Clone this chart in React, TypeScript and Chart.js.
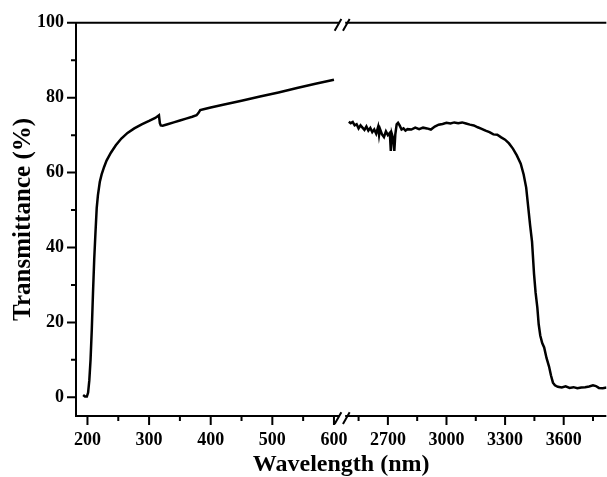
import { useEffect, useRef } from "react";
import { Chart, registerables } from "chart.js";

Chart.register(...registerables);

// UV-VIS segment (nm, %)
const uvWavelength = [193, 196, 199, 201, 203, 205, 207, 209, 211, 213, 215, 217, 220, 223, 227, 231, 238, 246, 255, 265, 276, 288, 300, 310, 316, 317.5, 319, 322, 330, 340, 350, 360, 370, 377, 380, 383, 390, 400, 420, 450, 480, 510, 540, 570, 600];
const uvTransmittance = [0.6, 0.2, 0.2, 1.2, 4.5, 10, 18, 28, 37, 44, 50.5, 54, 57.5, 59.5, 61.5, 63.2, 65.3, 67.3, 69.1, 70.6, 71.8, 72.9, 73.8, 74.6, 75.3, 73.2, 72.6, 72.5, 72.9, 73.4, 73.9, 74.4, 74.9, 75.3, 75.9, 76.7, 77.0, 77.4, 78.1, 79.2, 80.3, 81.4, 82.6, 83.7, 84.8];

// IR segment (nm, %)
const irWavelength = [2500, 2510, 2520, 2530, 2540, 2550, 2560, 2570, 2580, 2590, 2600, 2610, 2620, 2630, 2640, 2650, 2655, 2660, 2670, 2680, 2690, 2700, 2710, 2715, 2720, 2728, 2733, 2738, 2745, 2752, 2760, 2770, 2780, 2790, 2800, 2820, 2840, 2860, 2880, 2900, 2920, 2940, 2960, 2980, 3000, 3020, 3040, 3060, 3080, 3100, 3120, 3140, 3160, 3180, 3200, 3220, 3240, 3260, 3280, 3300, 3320, 3340, 3360, 3380, 3395, 3408, 3418, 3428, 3438, 3448, 3456, 3465, 3472, 3480, 3490, 3500, 3512, 3525, 3535, 3545, 3555, 3570, 3590, 3610, 3630, 3650, 3670, 3690, 3710, 3730, 3750, 3765, 3780, 3800, 3820];
const irTransmittance = [73.6, 73.2, 73.5, 72.6, 72.9, 71.8, 72.6, 72.0, 71.4, 72.3, 71.2, 71.9, 70.8, 71.5, 70.4, 72.2, 70.0, 71.6, 70.2, 69.5, 71.0, 70.0, 70.6, 65.8, 70.4, 69.0, 65.8, 70.2, 72.9, 73.3, 72.6, 71.5, 71.8, 71.2, 71.6, 71.5, 72.0, 71.6, 72.0, 71.8, 71.5, 72.3, 72.8, 73.0, 73.3, 73.1, 73.4, 73.2, 73.4, 73.1, 72.8, 72.6, 72.1, 71.7, 71.2, 70.8, 70.2, 70.1, 69.4, 68.8, 67.8, 66.4, 64.6, 62.4, 59.5, 56.0, 51.0, 46.0, 41.5, 33.0, 28.0, 24.0, 19.5, 16.5, 14.5, 13.3, 10.5, 8.2, 5.8, 3.9, 3.2, 2.8, 2.6, 2.9, 2.5, 2.7, 2.4, 2.6, 2.7, 2.9, 3.2, 3.0, 2.5, 2.4, 2.6];

const xMajorTicks = [200, 300, 400, 500, 600, 2700, 3000, 3300, 3600];
const xMinorTicks = [250, 350, 450, 550, 2550, 2850, 3150, 3450, 3750];
const yMajorTicks = [0, 20, 40, 60, 80, 100];
const yMinorTicks = [10, 30, 50, 70, 90];

// broken axis mapping (wavelength -> axis units)
const LEFT_END = 1000;
const RIGHT_ORIGIN_AXIS = 687.5;
const RIGHT_ORIGIN_NM = 2700;
const RIGHT_RATIO = 0.317;
const BREAK_AXIS = 613.3;
const X_MIN = 181.4;
const X_MAX = 1042;

function toAxis(w: number): number {
  return w <= LEFT_END ? w : RIGHT_ORIGIN_AXIS + (w - RIGHT_ORIGIN_NM) * RIGHT_RATIO;
}

const FONT = '"Liberation Serif", "Times New Roman", serif';

const framePlugin = {
  id: "frame",
  afterDatasetsDraw(chart: any) {
    const { ctx, chartArea, scales } = chart;
    const { left, top, right, bottom } = chartArea;
    const x = scales.x;
    const y = scales.y;
    ctx.save();
    ctx.strokeStyle = "#000";
    ctx.lineWidth = 2;
    ctx.lineCap = "butt";
    ctx.beginPath();
    ctx.moveTo(left - 1, top);
    ctx.lineTo(right, top);
    ctx.moveTo(left - 1, bottom);
    ctx.lineTo(right, bottom);
    ctx.moveTo(left, top - 1);
    ctx.lineTo(left, bottom + 1);
    // x ticks
    xMajorTicks.forEach((w) => {
      const px = x.getPixelForValue(toAxis(w));
      ctx.moveTo(px, bottom);
      ctx.lineTo(px, bottom + 9);
    });
    xMinorTicks.forEach((w) => {
      const px = x.getPixelForValue(toAxis(w));
      ctx.moveTo(px, bottom);
      ctx.lineTo(px, bottom + 5);
    });
    yMajorTicks.forEach((v) => {
      const py = y.getPixelForValue(v);
      ctx.moveTo(left, py);
      ctx.lineTo(left - 9, py);
    });
    yMinorTicks.forEach((v) => {
      const py = y.getPixelForValue(v);
      ctx.moveTo(left, py);
      ctx.lineTo(left - 5, py);
    });
    ctx.stroke();
    // axis break marks
    const bx = x.getPixelForValue(BREAK_AXIS);
    [top, bottom].forEach((yy: number) => {
      ctx.fillStyle = "#fff";
      ctx.fillRect(bx - 3, yy - 2, 6, 4);
      ctx.beginPath();
      ctx.moveTo(bx - 7.5, yy + 8);
      ctx.lineTo(bx - 0.8, yy - 3.7);
      ctx.moveTo(bx + 0.8, yy + 8);
      ctx.lineTo(bx + 7.5, yy - 3.7);
      ctx.stroke();
    });
    ctx.restore();
  },
};

export default function App() {
  const canvasRef = useRef<HTMLCanvasElement | null>(null);

  useEffect(() => {
    const canvas = canvasRef.current;
    if (!canvas) return;
    const tickFont = { family: FONT, size: 18, weight: "bold" as const };
    const titleFont = { family: FONT, size: 24, weight: "bold" as const, lineHeight: 1 };
    const chart = new Chart(canvas, {
      type: "line",
      data: {
        datasets: [
          {
            label: "UV-VIS",
            data: uvWavelength.map((w, i) => ({ x: toAxis(w), y: uvTransmittance[i] })),
            borderColor: "#000",
            borderWidth: 2.5,
            pointRadius: 0,
            tension: 0,
            fill: false,
          },
          {
            label: "IR",
            data: irWavelength.map((w, i) => ({ x: toAxis(w), y: irTransmittance[i] })),
            borderColor: "#000",
            borderWidth: 2.5,
            pointRadius: 0,
            tension: 0,
            fill: false,
          },
        ],
      },
      options: {
        animation: false,
        responsive: false,
        devicePixelRatio: 1,
        layout: { padding: { top: 22, left: 0, right: 0, bottom: 0 } },
        plugins: { legend: { display: false }, tooltip: { enabled: false } },
        scales: {
          x: {
            type: "linear",
            min: X_MIN,
            max: X_MAX,
            afterBuildTicks: (s: any) => {
              s.ticks = [...xMajorTicks, ...xMinorTicks]
                .map(toAxis)
                .sort((a, b) => a - b)
                .map((v) => ({ value: v }));
            },
            afterFit: (s: any) => {
              s.height = 61;
            },
            grid: { display: false, drawTicks: false },
            border: { display: false },
            ticks: {
              autoSkip: false,
              maxRotation: 0,
              minRotation: 0,
              padding: 14,
              color: "#000",
              font: tickFont,
              callback: (v: any) => {
                const w = xMajorTicks.find((t) => Math.abs(toAxis(t) - v) < 1e-6);
                return w === undefined ? "" : String(w);
              },
            },
            title: {
              display: true,
              text: "Wavelength (nm)",
              color: "#000",
              font: titleFont,
              padding: { top: 0, bottom: 0 },
            },
          },
          y: {
            type: "linear",
            min: -5,
            max: 100,
            afterBuildTicks: (s: any) => {
              s.ticks = [...yMajorTicks, ...yMinorTicks].sort((a, b) => a - b).map((v) => ({ value: v }));
            },
            afterFit: (s: any) => {
              s.width = 76;
            },
            grid: { display: false, drawTicks: false },
            border: { display: false },
            ticks: {
              autoSkip: false,
              padding: 12,
              color: "#000",
              font: tickFont,
              callback: (v: any) => (yMajorTicks.includes(v) ? String(v) : ""),
            },
            title: {
              display: true,
              text: "Transmittance (%)",
              color: "#000",
              font: { family: FONT, size: 25, weight: "bold" as const, lineHeight: 1 },
              padding: { top: 11, bottom: 0 },
            },
          },
        },
      },
      plugins: [framePlugin],
    });
    return () => chart.destroy();
  }, []);

  return (
    <div style={{ position: "fixed", left: 0, top: 0, width: 607, height: 477, overflow: "hidden", background: "#fff" }}>
      <canvas ref={canvasRef} width={607} height={477} style={{ display: "block", width: 607, height: 477 }} />
    </div>
  );
}
